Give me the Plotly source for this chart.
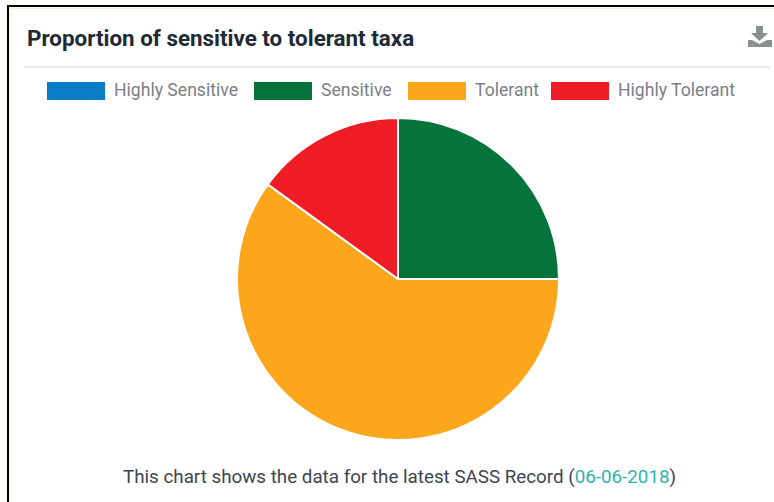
import plotly.graph_objects as go

W, H = 774, 502
labels = ["Highly Sensitive", "Sensitive", "Tolerant", "Highly Tolerant"]
values = [0, 25, 60, 15]
colors = ["#0b7cc8", "#05733a", "#fca61c", "#ee1c25"]
title = "Proportion of sensitive to tolerant taxa"
note_a = "This chart shows the data for the latest SASS Record ("
note_date = "06-06-2018"
swatch_x = [47, 254, 408, 551]
legend_text_x = [112, 319, 473, 616]

def px(x): return x / W
def py(y): return 1 - y / H

def poly(points):
    return "M" + " L".join(f"{px(x)},{py(y)}" for x, y in points) + " Z"

fig = go.Figure(go.Pie(
    labels=labels, values=values, sort=False, direction="clockwise", rotation=0,
    marker=dict(colors=colors, line=dict(color="white", width=2)),
    textinfo="none", hoverinfo="label+value", showlegend=False,
    domain=dict(x=[px(237), px(559)], y=[py(440), py(118)]),
))

shapes = [
    dict(type="line", xref="paper", yref="paper", x0=px(10), x1=px(10), y0=py(8), y1=py(502), line=dict(color="#f6eecb", width=1)),
    dict(type="line", xref="paper", yref="paper", x0=px(9), x1=1, y0=py(8.5), y1=py(8.5), line=dict(color="#f6eecb", width=1)),
    dict(type="line", xref="paper", yref="paper", x0=px(8), x1=px(8), y0=py(5), y1=py(502), line=dict(color="black", width=2)),
    dict(type="line", xref="paper", yref="paper", x0=px(7), x1=1, y0=py(6), y1=py(6), line=dict(color="black", width=2)),
    dict(type="line", xref="paper", yref="paper", x0=px(24), x1=px(770), y0=py(67), y1=py(67), line=dict(color="#d4d4d4", width=1)),
    # download icon
    dict(type="path", xref="paper", yref="paper", line=dict(width=0), fillcolor="#8a8f8f",
         path=poly([(756, 26), (763, 26), (763, 33), (768, 33), (759.5, 41), (751, 33), (756, 33)])),
    dict(type="path", xref="paper", yref="paper", line=dict(width=0), fillcolor="#8a8f8f",
         path=poly([(748, 40), (752, 40), (759.5, 44), (767, 40), (772, 40), (772, 47), (748, 47)])),
]
annotations = [
    dict(text=f"<b>{title}</b>", x=px(25), y=py(38), xref="paper", yref="paper", xanchor="left", yanchor="middle",
         showarrow=False, font=dict(family="Roboto, sans-serif", size=22.4, color="#202a36")),
    dict(text=f'{note_a}<span style="color:#2fb5ad">{note_date}</span>)', x=px(399), y=py(477), xref="paper", yref="paper",
         xanchor="center", yanchor="middle", showarrow=False,
         font=dict(family="Roboto, sans-serif", size=18.8, color="#3c4650")),
]
for sx, tx, lab, col in zip(swatch_x, legend_text_x, labels, colors):
    shapes.append(dict(type="rect", xref="paper", yref="paper", x0=px(sx), x1=px(sx + 58), y0=py(82), y1=py(100),
                       fillcolor=col, line=dict(width=0)))
    annotations.append(dict(text=lab, x=px(tx), y=py(90), xref="paper", yref="paper", xanchor="left", yanchor="middle",
                            showarrow=False, font=dict(family="Roboto, sans-serif", size=17.6, color="#7b8086")))

fig.update_layout(width=W, height=H, margin=dict(l=0, r=0, t=0, b=0), paper_bgcolor="white",
                  shapes=shapes, annotations=annotations)
fig.write_html("out.html", config=dict(displayModeBar=False),
               post_script="document.body.style.margin='0';document.documentElement.style.overflow='hidden';")
